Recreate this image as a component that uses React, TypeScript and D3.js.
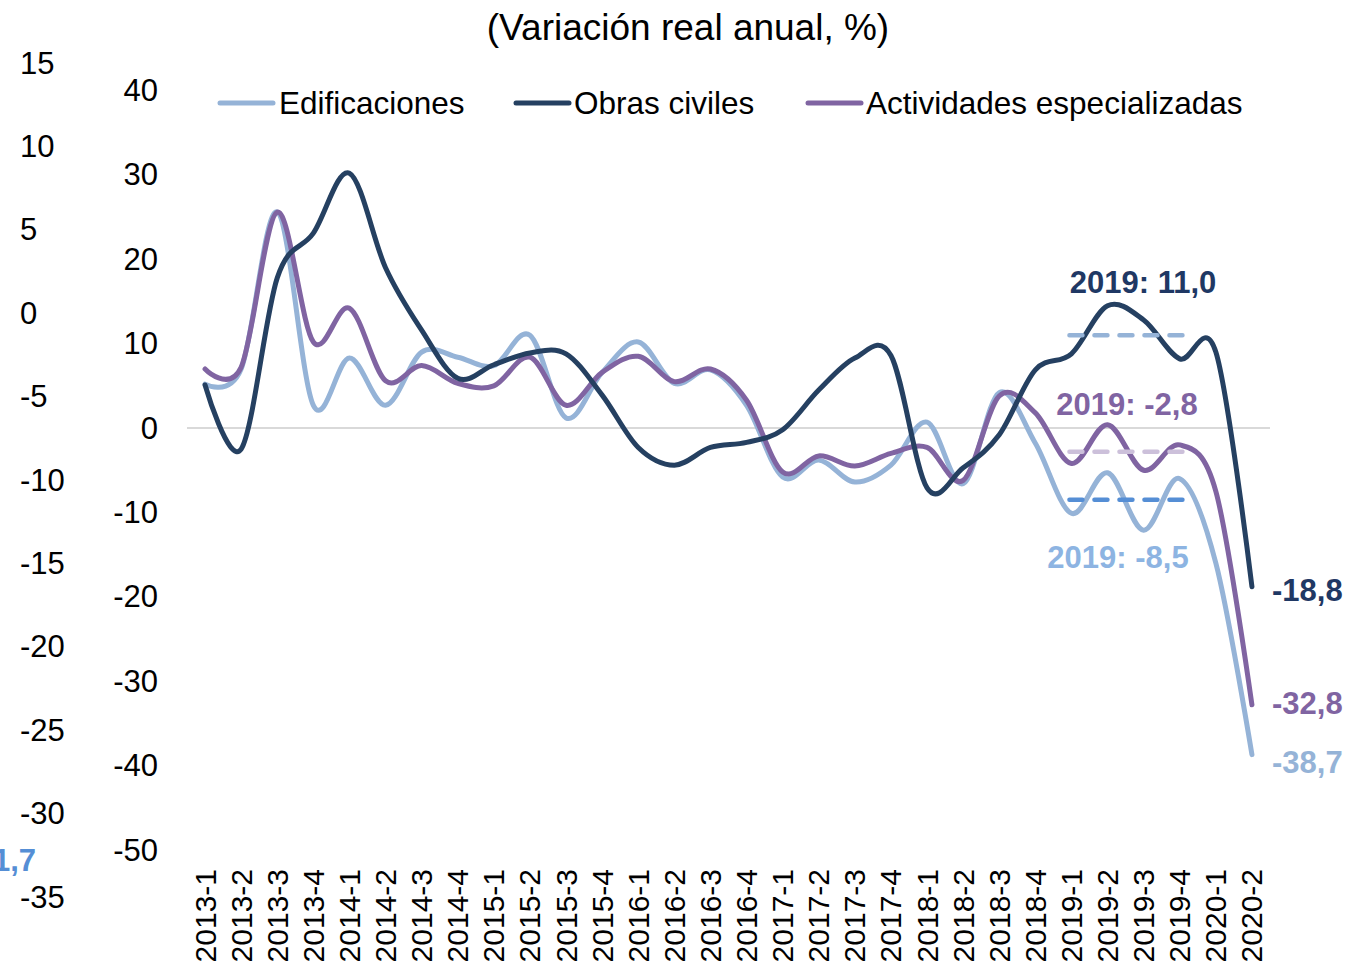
import React from "react";
import * as d3 from "d3";

const categories = [
  "2013-1","2013-2","2013-3","2013-4","2014-1","2014-2","2014-3","2014-4",
  "2015-1","2015-2","2015-3","2015-4","2016-1","2016-2","2016-3","2016-4",
  "2017-1","2017-2","2017-3","2017-4","2018-1","2018-2","2018-3","2018-4",
  "2019-1","2019-2","2019-3","2019-4","2020-1","2020-2",
];

const edificaciones = [
  5.2, 7.0, 25.6, 2.7, 8.3, 2.7, 9.0, 8.4, 7.4, 11.0, 1.2, 6.6, 10.2, 5.3, 6.9, 2.7,
  -5.8, -3.8, -6.4, -4.4, 0.7, -6.6, 4.2, -1.8, -10.1, -5.3, -12.1, -6.0, -16.0, -38.7,
];
const obrasCiviles = [
  5.1, -2.5, 17.8, 23.1, 30.2, 19.0, 11.6, 5.9, 7.5, 8.9, 8.8, 3.9, -2.3, -4.4, -2.3, -1.7,
  -0.2, 4.5, 8.3, 8.6, -7.1, -4.7, -0.8, 6.9, 8.8, 14.5, 12.8, 8.2, 9.0, -18.8,
];
const actividades = [
  7.0, 7.2, 25.6, 10.2, 14.2, 5.6, 7.4, 5.3, 5.0, 8.4, 2.7, 6.6, 8.5, 5.5, 7.0, 3.3,
  -5.2, -3.3, -4.5, -3.0, -2.3, -6.2, 3.8, 1.8, -4.2, 0.4, -5.0, -2.0, -7.5, -32.8,
];

const seriesNames = ["Edificaciones", "Obras civiles", "Actividades especializadas"];
const seriesColors = ["#95B3D7", "#254061", "#8064A2"];

const avg2019 = [-8.5, 11.0, -2.8];
const avgLabels = ["2019: -8,5", "2019: 11,0", "2019: -2,8"];
const avgLineColors = ["#558ED5", "#95B3D7", "#CCC0DA"];
const avgTextColors = ["#8DB4E2", "#1F3864", "#8064A2"];
const endLabels = ["-38,7", "-18,8", "-32,8"];
const endTextColors = ["#95B3D7", "#1F3864", "#8064A2"];

const innerTicks = [40, 30, 20, 10, 0, -10, -20, -30, -40, -50];
const outerTicks = [15, 10, 5, 0, -5, -10, -15, -20, -25, -30, -35];

const FONT = "'Liberation Sans', Arial, sans-serif";

export default function App() {
  const W = 1345, H = 967;
  const x = d3.scaleBand<string>().domain(categories).range([187, 1270]).padding(0);
  const cx = (c: string) => (x(c) as number) + x.bandwidth() / 2;
  const y = d3.scaleLinear().domain([-50, 40]).range([850, 90.5]);
  const yOuter = d3.scaleLinear().domain([-35, 15]).range([897, 63]);

  const line = d3
    .line<number>()
    .x((_, i) => cx(categories[i]))
    .y((v) => y(v))
    .curve(d3.curveCardinal.tension(0));

  const data = [edificaciones, obrasCiviles, actividades];
  const drawOrder = [0, 2, 1];

  const avgX0 = cx("2019-1") - 2;
  const avgX1 = cx("2019-4") + 3;

  const avgTextPos = [
    { x: 1118, dy: 58 },
    { x: 1143, dy: -53 },
    { x: 1127, dy: -47 },
  ];
  const endOffsets = [8, 4, -1];

  const legendItems = [
    { x0: 220, tx: 279 },
    { x0: 516, tx: 574 },
    { x0: 808, tx: 866 },
  ];

  return (
    <svg
      width={W}
      height={H}
      style={{ position: "absolute", left: 0, top: 0, background: "#fff" }}
      fontFamily={FONT}
    >
      <rect x={0} y={0} width={W} height={H} fill="#fff" />
      <text x={688} y={27} fontSize={37} textAnchor="middle" dominantBaseline="central" fill="#000">
        (Variación real anual, %)
      </text>

      {/* outer (cut) axis */}
      {outerTicks.map((t) => (
        <text key={"o" + t} x={20} y={yOuter(t)} fontSize={31} dominantBaseline="central" fill="#000">
          {t}
        </text>
      ))}
      <text x={36} y={860} fontSize={31} fontWeight="bold" textAnchor="end" dominantBaseline="central" fill="#558ED5">
        1,7
      </text>

      {/* inner axis */}
      {innerTicks.map((t) => (
        <text key={"i" + t} x={158} y={y(t)} fontSize={31} textAnchor="end" dominantBaseline="central" fill="#000">
          {t}
        </text>
      ))}

      {/* zero line */}
      <line x1={187} x2={1270} y1={y(0)} y2={y(0)} stroke="#D9D9D9" strokeWidth={2} />

      {/* category labels */}
      {categories.map((c) => (
        <text
          key={c}
          transform={`translate(${cx(c)},869) rotate(-90)`}
          fontSize={30}
          textAnchor="end"
          dominantBaseline="central"
          fill="#000"
        >
          {c}
        </text>
      ))}

      {/* series */}
      {drawOrder.map((i) => (
        <path
          key={"s" + i}
          d={line(data[i]) || ""}
          fill="none"
          stroke={seriesColors[i]}
          strokeWidth={5}
          strokeLinecap="round"
          strokeLinejoin="round"
        />
      ))}

      {/* 2019 averages */}
      {avg2019.map((v, i) => (
        <g key={"a" + i}>
          <line
            x1={avgX0}
            x2={avgX1}
            y1={y(v)}
            y2={y(v)}
            stroke={avgLineColors[i]}
            strokeWidth={4.5}
            strokeDasharray="13 12"
            strokeLinecap="round"
          />
          <text
            x={avgTextPos[i].x}
            y={y(v) + avgTextPos[i].dy}
            fontSize={31}
            fontWeight="bold"
            textAnchor="middle"
            dominantBaseline="central"
            fill={avgTextColors[i]}
          >
            {avgLabels[i]}
          </text>
        </g>
      ))}

      {/* end labels */}
      {data.map((d, i) => (
        <text
          key={"e" + i}
          x={1272}
          y={y(d[d.length - 1]) + endOffsets[i]}
          fontSize={31}
          fontWeight="bold"
          dominantBaseline="central"
          fill={endTextColors[i]}
        >
          {endLabels[i]}
        </text>
      ))}

      {/* legend */}
      {legendItems.map((l, i) => (
        <g key={"l" + i}>
          <line x1={l.x0} x2={l.x0 + 53} y1={103} y2={103} stroke={seriesColors[i]} strokeWidth={5} strokeLinecap="round" />
          <text x={l.tx} y={103} fontSize={31.5} dominantBaseline="central" fill="#000">
            {seriesNames[i]}
          </text>
        </g>
      ))}
    </svg>
  );
}
